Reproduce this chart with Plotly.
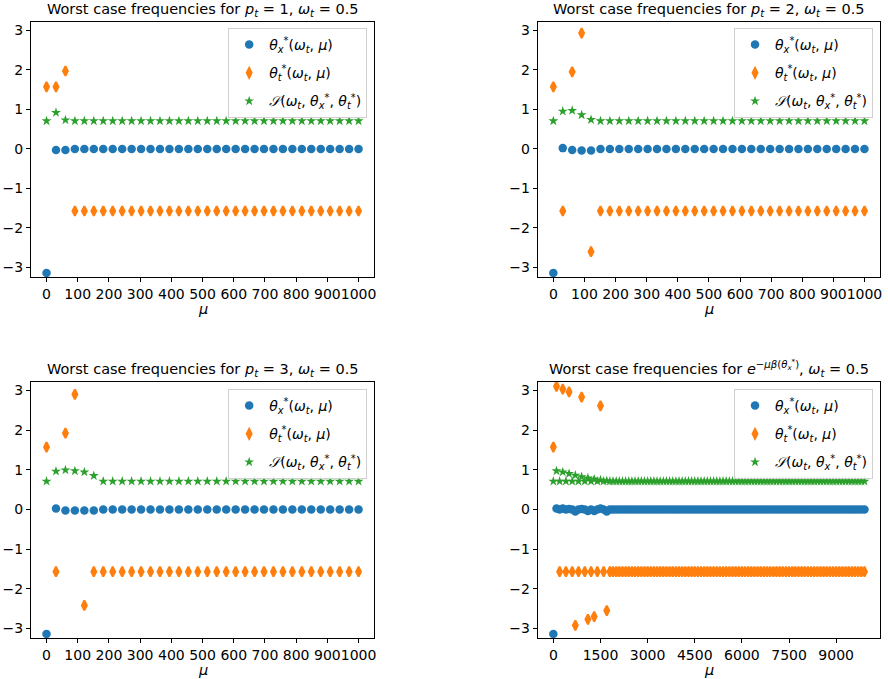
import plotly.graph_objects as go

# ---------------- data ----------------
mu_small = [0.0, 30.3, 60.6, 90.9, 121.2, 151.5, 181.8, 212.1, 242.4, 272.7,
            303.0, 333.3, 363.6, 393.9, 424.2, 454.5, 484.8, 515.2, 545.5, 575.8,
            606.1, 636.4, 666.7, 697.0, 727.3, 757.6, 787.9, 818.2, 848.5, 878.8,
            909.1, 939.4, 969.7, 1000.0]

p1_thx = [-3.14, -0.03, -0.03] + [0.0] * 31
p1_tht = [1.57, 1.57, 1.97] + [-1.57] * 31
p1_S = [0.707, 0.92, 0.73] + [0.707] * 31

p2_thx = [-3.14, 0.02, -0.03, -0.04, -0.04] + [0.0] * 29
p2_tht = [1.57, -1.57, 1.95, 2.93, -2.60] + [-1.57] * 29
p2_S = [0.707, 0.95, 0.97, 0.86, 0.74] + [0.707] * 29

p3_thx = [-3.14, 0.02, -0.03, -0.03, -0.03, -0.03] + [0.0] * 28
p3_tht = [1.57, -1.57, 1.92, 2.90, -2.42, -1.57] + [-1.57] * 28
p3_S = [0.707, 0.96, 0.99, 0.97, 0.94, 0.85] + [0.707] * 28

mu_large = [0, 100, 200, 300, 400, 500, 600, 700, 800, 900,
            1000, 1100, 1200, 1300, 1400, 1500, 1600, 1700, 1800, 1900,
            2000, 2100, 2200, 2300, 2400, 2500, 2600, 2700, 2800, 2900,
            3000, 3100, 3200, 3300, 3400, 3500, 3600, 3700, 3800, 3900,
            4000, 4100, 4200, 4300, 4400, 4500, 4600, 4700, 4800, 4900,
            5000, 5100, 5200, 5300, 5400, 5500, 5600, 5700, 5800, 5900,
            6000, 6100, 6200, 6300, 6400, 6500, 6600, 6700, 6800, 6900,
            7000, 7100, 7200, 7300, 7400, 7500, 7600, 7700, 7800, 7900,
            8000, 8100, 8200, 8300, 8400, 8500, 8600, 8700, 8800, 8900,
            9000, 9100, 9200, 9300, 9400, 9500, 9600, 9700, 9800, 9900]

p4_thx = [-3.14, 0.02, 0.0, 0.02, 0.0, 0.01, 0.0, -0.05, 0.0, 0.01,
          0.0, -0.04, 0.0, -0.04, 0.0, 0.02, 0.0, -0.05] + [0.0] * 82
p4_tht = [1.57, 3.10, -1.57, 3.03, -1.57, 2.96, -1.57, -2.92, -1.57, 2.83,
          -1.57, -2.77, -1.57, -2.70, -1.57, 2.61, -1.57, -2.55] + [-1.57] * 82
p4_S = [0.707, 0.97, 0.707, 0.94, 0.707, 0.90, 0.707, 0.86, 0.707, 0.82,
        0.707, 0.79, 0.707, 0.76, 0.707, 0.74, 0.707, 0.72] + [0.707] * 82

titles = [
    "Worst case frequencies for <i>p</i><sub><i>t</i></sub> = 1, <i>ω</i><sub><i>t</i></sub> = 0.5",
    "Worst case frequencies for <i>p</i><sub><i>t</i></sub> = 2, <i>ω</i><sub><i>t</i></sub> = 0.5",
    "Worst case frequencies for <i>p</i><sub><i>t</i></sub> = 3, <i>ω</i><sub><i>t</i></sub> = 0.5",
    "Worst case frequencies for <i>e</i><sup>−<i>μβ</i>(<i>θ</i><sub><i>x</i></sub><sup>*</sup>)</sup>, <i>ω</i><sub><i>t</i></sub> = 0.5",
]
series_names = [
    "<i>θ</i><sub><i>x</i></sub><sup>*</sup>(<i>ω</i><sub><i>t</i></sub>, <i>μ</i>)",
    "<i>θ</i><sub><i>t</i></sub><sup>*</sup>(<i>ω</i><sub><i>t</i></sub>, <i>μ</i>)",
    "<i>𝒮</i>(<i>ω</i><sub><i>t</i></sub>, <i>θ</i><sub><i>x</i></sub><sup>*</sup>, <i>θ</i><sub><i>t</i></sub><sup>*</sup>)",
]
xticks_small = [0, 100, 200, 300, 400, 500, 600, 700, 800, 900, 1000]
xticks_large = [0, 1500, 3000, 4500, 6000, 7500, 9000]
yticks = [-3, -2, -1, 0, 1, 2, 3]

# ---------------- layout geometry ----------------
W, H = 888, 679
FONT = "DejaVu Sans"
colors = ["#1f77b4", "#ff7f0e", "#2ca02c"]

xdoms = [[31 / W, 375 / W], [539 / W, 882 / W]]
ydoms = [[1 - 277 / H, 1 - 22 / H], [1 - 638 / H, 1 - 382 / H]]

panels = [
    (mu_small, [p1_thx, p1_tht, p1_S], xticks_small, [-50, 1050], 0, 0),
    (mu_small, [p2_thx, p2_tht, p2_S], xticks_small, [-50, 1050], 1, 0),
    (mu_small, [p3_thx, p3_tht, p3_S], xticks_small, [-50, 1050], 0, 1),
    (mu_large, [p4_thx, p4_tht, p4_S], xticks_large, [-495, 10395], 1, 1),
]

fig = go.Figure()
layout = dict(
    width=W, height=H, margin=dict(l=0, r=0, t=0, b=0),
    paper_bgcolor="white", plot_bgcolor="white",
    font=dict(family=FONT, size=14, color="black"),
    showlegend=True,
)
annotations = []

marker_styles = [
    dict(symbol="circle", size=8.5, line=dict(width=0)),
    dict(symbol="diamond-tall", size=7, line=dict(width=2, color=colors[1])),
    dict(symbol="star", size=7.5, line=dict(width=0)),
]

for k, (mu, ser, xt, xr, col, row) in enumerate(panels):
    n = "" if k == 0 else str(k + 1)
    leg = "legend" if k == 0 else "legend" + str(k + 1)
    for j in range(3):
        ms = dict(marker_styles[j])
        ms["color"] = colors[j]
        fig.add_trace(go.Scatter(
            x=mu, y=ser[j], mode="markers", marker=ms,
            name=series_names[j], xaxis="x" + n, yaxis="y" + n,
            legend=leg, legendgroup="g%d_%d" % (k, j), showlegend=True,
        ))
    axcommon = dict(showgrid=False, zeroline=False, showline=True, linecolor="black",
                    linewidth=1, mirror=True, ticks="outside", ticklen=4,
                    tickcolor="black", tickwidth=1,
                    tickfont=dict(family=FONT, size=14, color="black"))
    layout["xaxis" + n] = dict(axcommon, domain=xdoms[col], range=xr, anchor="y" + n,
                               tickmode="array", tickvals=xt, tickangle=0)
    layout["yaxis" + n] = dict(axcommon, domain=ydoms[row], range=[-3.24, 3.21],
                               anchor="x" + n, tickmode="array", tickvals=yticks)
    xc = (xdoms[col][0] + xdoms[col][1]) / 2
    annotations.append(dict(text=titles[k], x=xc, y=ydoms[row][1], xref="paper", yref="paper",
                            xanchor="center", yanchor="bottom", yshift=1, showarrow=False,
                            font=dict(family=FONT, size=14.5, color="black")))
    annotations.append(dict(text="<i>μ</i>", x=xc, y=ydoms[row][0], xref="paper", yref="paper",
                            xanchor="center", yanchor="top", yshift=-22, showarrow=False,
                            font=dict(family=FONT, size=14.5, color="black")))
    legx = (368 if col == 0 else 875) / W
    legy = 1 - (28 if row == 0 else 389) / H
    layout[leg] = dict(x=legx, y=legy, xanchor="right", yanchor="top",
                       bgcolor="rgba(255,255,255,0.8)", bordercolor="#d0d0d0", borderwidth=1,
                       font=dict(family=FONT, size=14, color="black"),
                       traceorder="grouped", tracegroupgap=7, itemwidth=30)

layout["annotations"] = annotations
fig.update_layout(**layout)
fig.write_html("out.html")
